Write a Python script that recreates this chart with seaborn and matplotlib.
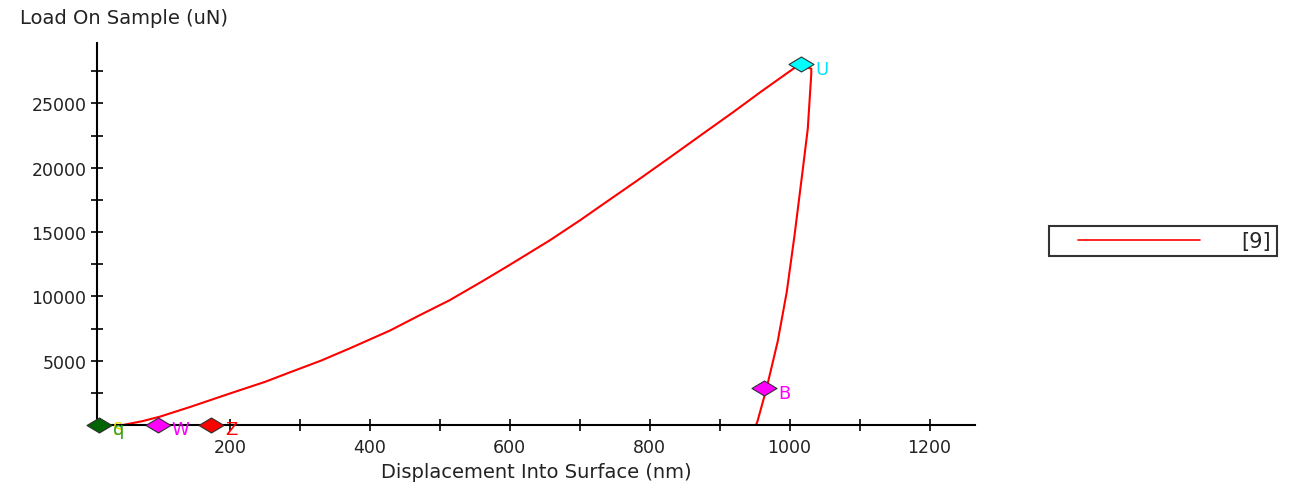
import numpy as np
import pandas as pd
import matplotlib
matplotlib.use("Agg")
import matplotlib.pyplot as plt
import seaborn as sns
from matplotlib.path import Path
from matplotlib.legend_handler import HandlerLine2D

sns.set_theme(style="white")
plt.rcParams['font.family'] = ['DejaVu Sans']

# ---- data ----
load_disp = [47, 75, 100, 143, 200, 250, 286, 330, 371, 429, 470, 514, 560, 600, 657,
             700, 729, 786, 830, 871, 920, 960, 1010, 1017]
load_force = [0, 300, 650, 1400, 2450, 3350, 4100, 5000, 5950, 7350, 8500, 9700, 11150,
              12450, 14350, 15900, 17000, 19150, 20850, 22450, 24350, 25950, 27880, 28030]
hold_disp = [1024, 1031]
hold_force = [27850, 27700]
unload_disp = [1031, 1026, 1019, 1007, 996, 983, 967, 954, 952]
unload_force = [27330, 23050, 19940, 14730, 10370, 6500, 2840, 270, 0]

marker_names = ["q", "W", "Z", "U", "B"]
marker_x = [13, 97, 173, 1017, 964]
marker_y = [0, 0, 0, 28030, 2840]
marker_colors = ["#006400", "#ff00ff", "#ff0000", "#00ffff", "#ff00ff"]
label_colors = ["#2e9e2e", "#ff00ff", "#ff0000", "#00e5ff", "#ff00ff"]
series_name = "[9]"

x_ticks = [200, 400, 600, 800, 1000, 1200]
y_ticks = [5000, 10000, 15000, 20000, 25000]


class InsetLineHandler(HandlerLine2D):
    """Legend line that starts a little to the right of the handle box."""
    def create_artists(self, legend, orig_handle, xdescent, ydescent, width, height,
                       fontsize, trans):
        artists = super().create_artists(legend, orig_handle, xdescent, ydescent,
                                         width, height, fontsize, trans)
        for a in artists:
            xd = np.asarray(a.get_xdata(), dtype=float)
            if len(xd) >= 2:
                a.set_xdata(np.linspace(xd[0] + 0.16 * width, xd[-1], len(xd)))
        return artists


# ---- figure ----
fig = plt.figure(figsize=(12.93, 4.89), dpi=100)
ax = fig.add_axes([97/1293, (489-426)/489, (975-97)/1293, (426-44)/489])

df = pd.DataFrame({
    "disp": load_disp + hold_disp + unload_disp,
    "force": load_force + hold_force + unload_force,
    "series": series_name,
})
sns.lineplot(data=df, x="disp", y="force", hue="series", palette=["#ff0000"],
             sort=False, estimator=None, ax=ax, linewidth=1.5, zorder=2)

diamond = Path([(-1, 0), (0, 0.6), (1, 0), (0, -0.6), (-1, 0)],
               [Path.MOVETO, Path.LINETO, Path.LINETO, Path.LINETO, Path.CLOSEPOLY])
for i, (nm, mx, my, mc, lc) in enumerate(zip(marker_names, marker_x, marker_y,
                                               marker_colors, label_colors)):
    ax.plot([mx], [my], marker=diamond, markersize=18, color=mc,
            markeredgecolor="#303030", markeredgewidth=0.8, linestyle="none",
            zorder=5, clip_on=False)
    if i == 0:
        ax.annotate("S", (mx, my), xytext=(10, -3), textcoords="offset points",
                    color="#e8d800", fontsize=12, ha="left", va="center", zorder=6,
                    annotation_clip=False)
    ax.annotate(nm, (mx, my), xytext=(10, -3), textcoords="offset points",
                color=lc, fontsize=13, ha="left", va="center", zorder=6,
                annotation_clip=False)

ax.set_xlim(10, 1265)
ax.set_ylim(0, 29700)
ax.set_xticks(x_ticks)
ax.set_yticks(y_ticks)
ax.set_xticks(np.arange(100, 1265, 200), minor=True)
ax.set_yticks(np.arange(2500, 29700, 5000), minor=True)
ax.tick_params(axis="both", which="both", direction="inout", length=9, width=1.2,
               color="black", labelsize=12.5, labelcolor="#222222")
ax.tick_params(axis="both", which="both", bottom=True, left=True)
ax.tick_params(axis="x", pad=5)
ax.tick_params(axis="y", pad=3)
for s in ["top", "right"]:
    ax.spines[s].set_visible(False)
for s in ["left", "bottom"]:
    ax.spines[s].set_color("black")
    ax.spines[s].set_linewidth(1.5)
ax.grid(False)

ax.set_xlabel("Displacement Into Surface (nm)", fontsize=14, color="#222222", labelpad=4)
ax.set_ylabel("")
fig.text(20/1293, 1 - 18/489, "Load On Sample (uN)", fontsize=14, color="#222222",
         ha="left", va="center")

handles, labels = ax.get_legend_handles_labels()
leg = ax.legend(handles, labels, loc="center left",
                bbox_to_anchor=((1049-97)/878, 1 - (242-44)/382),
                borderaxespad=0, frameon=True, fancybox=False, fontsize=15,
                handlelength=7.0, markerfirst=True, borderpad=0.25, handletextpad=2.0,
                handler_map={type(handles[0]): InsetLineHandler()})
leg.get_frame().set_edgecolor("black")
leg.get_frame().set_linewidth(1.5)
leg.set_title(None)
for line in leg.get_lines():
    line.set_linewidth(1.2)

fig.savefig("out.png", dpi=100)
